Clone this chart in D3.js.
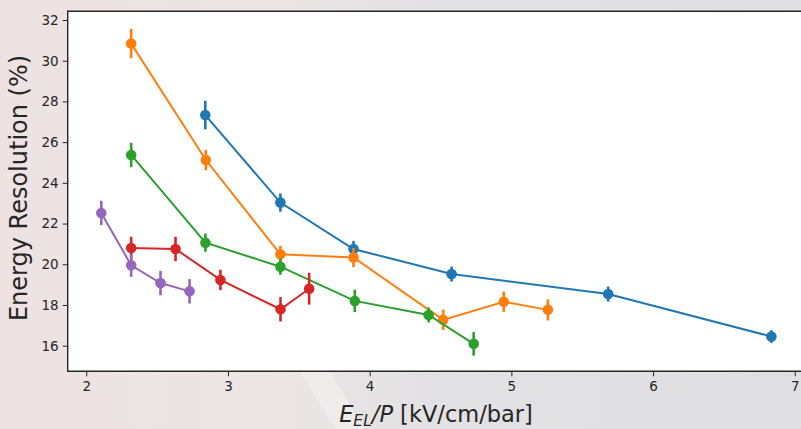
<!DOCTYPE html>
<html>
<head>
<meta charset="utf-8">
<script src="https://cdn.jsdelivr.net/npm/d3@7"></script>
<style>
  html, body { margin: 0; padding: 0; overflow: hidden; }
  .axis text { font-family: "DejaVu Sans", sans-serif; font-size: 13.5px; fill: #262626; }
  .axis path, .axis line { stroke: #262626; }
</style>
</head>
<body>
<script>

// data
var seriesNames = ["blue", "orange", "green", "red", "purple"];

var blueX = [2.840, 3.370, 3.886, 4.578, 5.683, 6.835];
var blueY = [27.33, 23.03, 20.75, 19.52, 18.54, 16.45];
var blueErr = [0.70, 0.45, 0.40, 0.37, 0.37, 0.31];

var orangeX = [2.317, 2.844, 3.370, 3.886, 4.519, 4.946, 5.258];
var orangeY = [30.84, 25.12, 20.49, 20.33, 17.27, 18.16, 17.76];
var orangeErr = [0.72, 0.50, 0.42, 0.47, 0.50, 0.50, 0.52];

var greenX = [2.317, 2.841, 3.370, 3.895, 4.416, 4.734];
var greenY = [25.37, 21.06, 19.88, 18.20, 17.51, 16.09];
var greenErr = [0.60, 0.45, 0.40, 0.55, 0.37, 0.58];

var redX = [2.317, 2.630, 2.947, 3.371, 3.573];
var redY = [20.80, 20.75, 19.23, 17.79, 18.80];
var redErr = [0.55, 0.60, 0.50, 0.60, 0.78];

var purpleX = [2.106, 2.317, 2.524, 2.729];
var purpleY = [22.52, 19.95, 19.08, 18.67];
var purpleErr = [0.60, 0.57, 0.60, 0.60];

var xTicks = [2, 3, 4, 5, 6, 7];
var yTicks = [16, 18, 20, 22, 24, 26, 28, 30, 32];

var seriesColors = {
  blue : "#1f77b4",
  orange : "#ff7f0e",
  green : "#2ca02c",
  red : "#d62728",
  purple : "#9467bd",
};

var series = [
  {name : "blue", x : blueX, y : blueY, err : blueErr},
  {name : "orange", x : orangeX, y : orangeY, err : orangeErr},
  {name : "green", x : greenX, y : greenY, err : greenErr},
  {name : "red", x : redX, y : redY, err : redErr},
  {name : "purple", x : purpleX, y : purpleY, err : purpleErr},
];

var windowSettings = {
  width : 801,
  height : 429,
};

var graphSettings = {
  left : 67.7,
  right : 802.7,
  top : 11.3,
  bottom : 371.3,

  xMin : 1.869,
  xMax : 7.056,
  yMin : 14.742,
  yMax : 32.427,

  lineWidth : 2,
  errWidth : 2.6,
  pointSize : 5.3,
};

//***********************************

var svg = d3.select("body").append("svg")
  .attr("width", windowSettings.width)
  .attr("height", windowSettings.height);

// slide background behind the figure
var defs = svg.append("defs");
var grad = defs.append("linearGradient").attr("id", "bg")
  .attr("x1", "0%").attr("y1", "0%").attr("x2", "100%").attr("y2", "0%");
grad.append("stop").attr("offset", "0%").attr("stop-color", "#eee2e2");
grad.append("stop").attr("offset", "35%").attr("stop-color", "#ece6e6");
grad.append("stop").attr("offset", "55%").attr("stop-color", "#e2e1e3");
grad.append("stop").attr("offset", "100%").attr("stop-color", "#dfdfe1");

svg.append("rect")
  .attr("width", windowSettings.width)
  .attr("height", windowSettings.height)
  .attr("fill", "url(#bg)");

// faint light streak in the lower band
svg.append("path")
  .attr("d", "M300,372 L330,372 L365,429 L335,429 Z")
  .attr("fill", "#f1eded").attr("opacity", 0.8);

var xScale = d3.scaleLinear()
  .domain([graphSettings.xMin, graphSettings.xMax])
  .range([graphSettings.left, graphSettings.right]);

var yScale = d3.scaleLinear()
  .domain([graphSettings.yMin, graphSettings.yMax])
  .range([graphSettings.bottom, graphSettings.top]);

// plot area
svg.append("rect")
  .attr("x", graphSettings.left)
  .attr("y", graphSettings.top)
  .attr("width", graphSettings.right - graphSettings.left)
  .attr("height", graphSettings.bottom - graphSettings.top)
  .attr("fill", "white");

var gg = svg.append("g");

function addSeries(s) {
  var col = seriesColors[s.name];
  var pts = s.x.map(function(d, i) { return [d, s.y[i], s.err[i]]; });

  var line = d3.line()
    .x(function(d) { return xScale(d[0]); })
    .y(function(d) { return yScale(d[1]); });

  var g = gg.append("g");

  g.append("path")
    .datum(pts)
    .attr("d", line)
    .attr("fill", "none")
    .attr("stroke", col)
    .attr("stroke-width", graphSettings.lineWidth);

  g.selectAll("line.err")
    .data(pts)
    .join("line")
    .attr("class", "err")
    .attr("x1", function(d) { return xScale(d[0]); })
    .attr("x2", function(d) { return xScale(d[0]); })
    .attr("y1", function(d) { return yScale(d[1] - d[2]); })
    .attr("y2", function(d) { return yScale(d[1] + d[2]); })
    .attr("stroke", col)
    .attr("stroke-width", graphSettings.errWidth);

  g.selectAll("circle")
    .data(pts)
    .join("circle")
    .attr("cx", function(d) { return xScale(d[0]); })
    .attr("cy", function(d) { return yScale(d[1]); })
    .attr("r", graphSettings.pointSize)
    .attr("fill", col);
}

series.forEach(addSeries);

function addAxis() {
  var xAxis = d3.axisBottom(xScale).tickValues(xTicks).tickSize(5).tickPadding(5).tickFormat(d3.format("d"));
  svg.append("g")
    .attr("class", "axis")
    .attr("transform", "translate(0," + graphSettings.bottom + ")")
    .call(xAxis)
    .call(function(g) { g.select(".domain").remove(); });

  var yAxis = d3.axisLeft(yScale).tickValues(yTicks).tickSize(5).tickPadding(4).tickFormat(d3.format("d"));
  svg.append("g")
    .attr("class", "axis")
    .attr("transform", "translate(" + graphSettings.left + ",0)")
    .call(yAxis)
    .call(function(g) { g.select(".domain").remove(); });

  // spines: left, bottom, top (right one is off the page)
  var sp = svg.append("g").attr("stroke", "#262626").attr("stroke-width", 1.4).attr("fill", "none");
  sp.append("path").attr("d",
    "M" + graphSettings.right + "," + graphSettings.top +
    " L" + graphSettings.left + "," + graphSettings.top +
    " L" + graphSettings.left + "," + graphSettings.bottom +
    " L" + graphSettings.right + "," + graphSettings.bottom);

  // axis labels
  var xl = svg.append("text")
    .attr("x", 436)
    .attr("y", 421.5)
    .attr("text-anchor", "middle")
    .attr("font-family", "DejaVu Sans, sans-serif")
    .attr("font-size", 22.5)
    .attr("fill", "#262626");
  xl.append("tspan").attr("font-style", "italic").text("E");
  xl.append("tspan").attr("font-style", "italic").attr("font-size", 15.5).attr("dy", 4).text("EL");
  xl.append("tspan").attr("font-style", "italic").attr("dy", -4).text("/P");
  xl.append("tspan").text(" [kV/cm/bar]");

  svg.append("text")
    .attr("transform", "translate(27,188) rotate(-90)")
    .attr("text-anchor", "middle")
    .attr("font-family", "DejaVu Sans, sans-serif")
    .attr("font-size", 24)
    .attr("fill", "#262626")
    .text("Energy Resolution (%)");
}

addAxis();

</script>
</body>
</html>
